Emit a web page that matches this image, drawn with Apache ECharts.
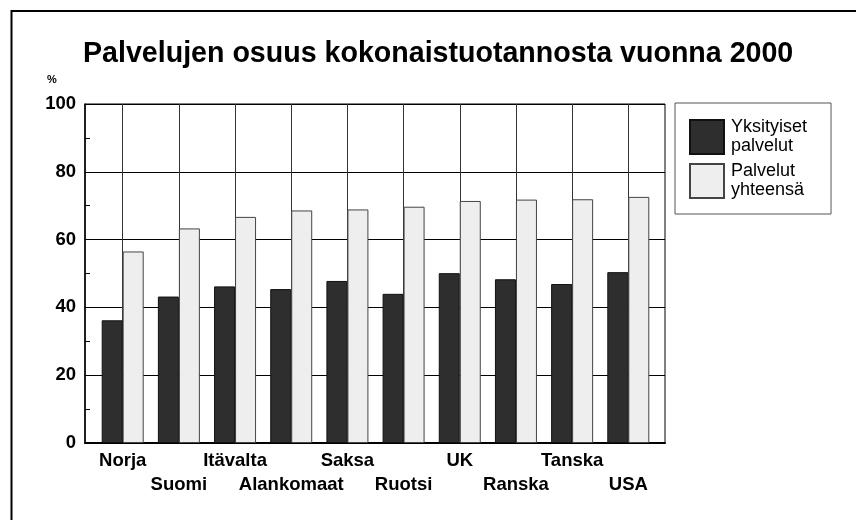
<!DOCTYPE html>
<html>
<head>
<meta charset="utf-8">
<script src="https://cdn.jsdelivr.net/npm/echarts@6/dist/echarts.min.js"></script>
<style>
    html, body { margin: 0; padding: 0; background: #fff; }
    #chart { width: 856px; height: 520px; }
</style>
</head>
<body>
<div id="chart"></div>
<script>
// maat ja arvot (luettu kuvasta)
var categories = ['Norja', 'Suomi', 'Itävalta', 'Alankomaat', 'Saksa', 'Ruotsi', 'UK', 'Ranska', 'Tanska', 'USA'];
var privateServices = [36.2, 43.2, 46.2, 45.4, 47.8, 44.0, 50.1, 48.3, 46.9, 50.4];
var allServices = [56.5, 63.3, 66.7, 68.6, 68.9, 69.7, 71.4, 71.8, 71.9, 72.6];
var yTicks = { min: 0, max: 100, interval: 20 };

var font = '"Liberation Sans", Arial, Helvetica, sans-serif';
var myChart = echarts.init(document.getElementById('chart'));

var option = {
    backgroundColor: '#fff',
    animation: false,
    title: {
        text: 'Palvelujen osuus kokonaistuotannosta vuonna 2000',
        left: 83,
        top: 40,
        padding: 0,
        textStyle: { fontFamily: font, fontSize: 28.6, fontWeight: 'bold', color: '#000' }
    },
    legend: {
        orient: 'vertical',
        left: 675,
        top: 103,
        padding: [15, 24, 14, 14],
        itemWidth: 34,
        itemHeight: 34,
        itemGap: 6,
        borderColor: '#555',
        borderWidth: 1,
        icon: 'rect',
        selectedMode: false,
        textStyle: { fontFamily: font, fontSize: 18, lineHeight: 19, color: '#000', padding: [0, 0, 0, 2] },
        data: ['Yksityiset\npalvelut', 'Palvelut\nyhteensä']
    },
    graphic: [
        {
            type: 'rect',
            shape: { x: 11.5, y: 11, width: 900, height: 600 },
            style: { fill: 'none', stroke: '#000', lineWidth: 2 },
            silent: true
        },
        {
            type: 'text',
            left: 47,
            top: 74,
            style: { text: '%', fontFamily: font, fontSize: 11, fontWeight: 'bold', fill: '#000' }
        }
    ],
    grid: [
        // kehys ja vaakaviivat
        { left: 85, top: 104, width: 580, height: 339, show: true, borderColor: '#000', borderWidth: 1 },
        // pylväät, pystyviivat maiden kohdalla
        { left: 122.7, top: 104, width: 505.6, height: 339 }
    ],
    xAxis: [
        {
            type: 'value', gridIndex: 0, min: 0, max: 1,
            axisLine: { show: true, lineStyle: { color: '#000', width: 2 } },
            axisTick: { show: false },
            axisLabel: { show: false },
            splitLine: { show: false }
        },
        {
            type: 'category', gridIndex: 1, boundaryGap: false,
            data: categories,
            axisLine: { show: false },
            axisTick: { show: false },
            splitLine: { show: true, lineStyle: { color: '#333', width: 1 } },
            axisLabel: {
                interval: 0,
                margin: 6,
                fontFamily: font,
                fontSize: 18.5,
                fontWeight: 'bold',
                lineHeight: 24,
                color: '#000',
                formatter: function (value, idx) {
                    // joka toinen nimi alemmalle riville
                    return idx % 2 === 1 ? '\n' + value : value;
                }
            }
        }
    ],
    yAxis: [
        {
            type: 'value', gridIndex: 0,
            min: yTicks.min, max: yTicks.max, interval: yTicks.interval,
            axisLine: { show: true, lineStyle: { color: '#000', width: 1.5 } },
            axisTick: { show: false, inside: true },
            minorTick: { show: true, splitNumber: 2, length: 5, lineStyle: { color: '#000' } },
            axisLabel: { margin: 9, fontFamily: font, fontSize: 18.5, fontWeight: 'bold', color: '#000' },
            splitLine: { show: true, lineStyle: { color: '#000', width: 1 } }
        },
        {
            type: 'value', gridIndex: 1,
            min: yTicks.min, max: yTicks.max,
            show: false
        }
    ],
    series: [
        {
            name: 'Yksityiset\npalvelut',
            type: 'bar',
            xAxisIndex: 1,
            yAxisIndex: 1,
            barWidth: 21,
            barGap: '0%',
            clip: false,
            data: privateServices,
            itemStyle: { color: '#2e2e2e', borderColor: '#111', borderWidth: 1 }
        },
        {
            name: 'Palvelut\nyhteensä',
            type: 'bar',
            xAxisIndex: 1,
            yAxisIndex: 1,
            barWidth: 21,
            barGap: '0%',
            clip: false,
            data: allServices,
            itemStyle: { color: '#eeeeee', borderColor: '#444', borderWidth: 1 }
        }
    ]
};

myChart.setOption(option);
</script>
</body>
</html>
